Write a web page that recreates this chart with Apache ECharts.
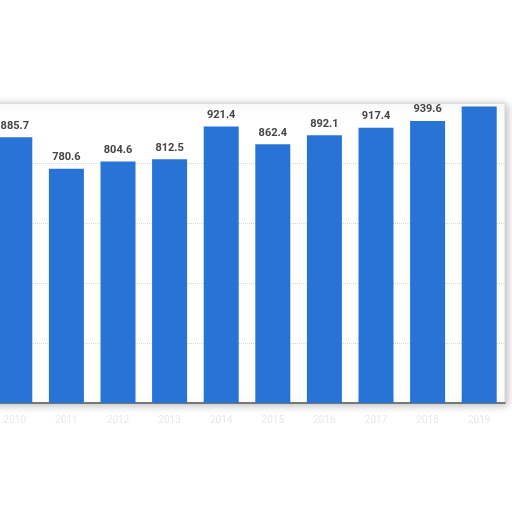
<!DOCTYPE html>
<html>
<head>
<meta charset="utf-8">
<script src="https://cdn.jsdelivr.net/npm/echarts@6/dist/echarts.min.js"></script>
<style>html,body{margin:0;padding:0;background:#fff;overflow:hidden;}#c{width:524px;height:512px;position:relative;left:-11px;}</style>
</head>
<body>
<div id="c"></div>
<script>
var categories = ['2010','2011','2012','2013','2014','2015','2016','2017','2018','2019'];
var values = [885.7, 780.6, 804.6, 812.5, 921.4, 862.4, 892.1, 917.4, 939.6, 988];
var showLabel = [true, true, true, true, true, true, true, true, true, false];
var yTicks = {min: 0, max: 1000, interval: 200};

var chart = echarts.init(document.getElementById('c'));
chart.setOption({
  animation: false,
  backgroundColor: '#fff',
  grid: {
    left: 0, right: 8, top: 103, bottom: 109,
    show: true, backgroundColor: '#fff', borderColor: '#d8d8d8', borderWidth: 1,
    shadowBlur: 8, shadowColor: 'rgba(0,0,0,0.25)', shadowOffsetX: 2, shadowOffsetY: 2
  },
  xAxis: {
    type: 'category', data: categories,
    axisLine: {show: true, lineStyle: {color: '#555', width: 1.5}},
    axisTick: {show: false},
    axisLabel: {color: '#e8e8e8', fontSize: 10, margin: 12, fontFamily: 'Roboto'}
  },
  yAxis: {
    type: 'value', min: yTicks.min, max: yTicks.max, interval: yTicks.interval,
    axisLabel: {show: false}, axisLine: {show: false}, axisTick: {show: false},
    splitLine: {lineStyle: {color: '#d6d6d6', type: 'dotted'}}
  },
  series: [{
    type: 'bar',
    barWidth: 35,
    data: values.map(function (v, i) {
      return {value: v, label: {show: showLabel[i]}};
    }),
    itemStyle: {color: '#2873d6'},
    label: {
      show: true, position: 'top', distance: 6,
      color: '#444', fontSize: 11, fontWeight: 'bold', fontFamily: 'Roboto',
      formatter: function (p) { return p.value.toFixed(1); }
    }
  }]
});
</script>
</body>
</html>
